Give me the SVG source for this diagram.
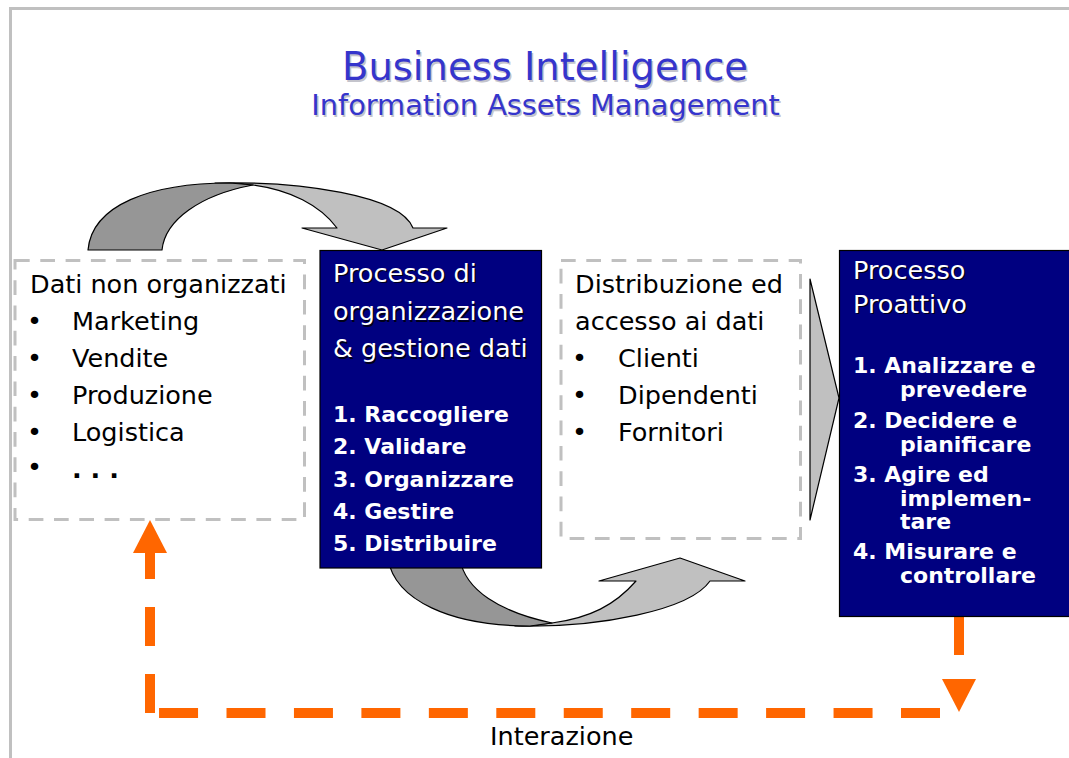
<svg xmlns="http://www.w3.org/2000/svg" width="1069" height="758" viewBox="0 0 1069 758">
  <style>
    .frame { fill: none; stroke: #c0c0c0; stroke-width: 3; }
    .dashbox { fill: #ffffff; stroke: #c0c0c0; stroke-width: 3; stroke-dasharray: 14.7 10.6; }
    .navy { fill: #000080; stroke: #000000; stroke-width: 1.2; }
    .txt { font-family: "DejaVu Sans", Verdana, sans-serif; font-size: 25.5px; fill: #000000; }
    .wtxt { font-family: "DejaVu Sans", Verdana, sans-serif; font-size: 25.5px; fill: #ffffff; }
    .wbold { font-family: "DejaVu Sans", Verdana, sans-serif; font-size: 22px; font-weight: bold; fill: #ffffff; }
    .wshadow { fill: #000000; opacity: 0.8; }
    .title { font-family: "DejaVu Sans", Verdana, sans-serif; fill: #3535cc; text-anchor: middle; }
    .tshadow { fill: #c4c4cc; }
    .dark { fill: #969696; stroke: #000000; stroke-width: 1.2; stroke-linejoin: round; }
    .light { fill: #c0c0c0; stroke: #000000; stroke-width: 1.2; stroke-linejoin: round; }
    .orange { fill: none; stroke: #ff6600; stroke-width: 10; }
    .ohead { fill: #ff6600; }
  </style>

  <!-- page frame -->
  <path class="frame" d="M 1069,8.5 L 10.5,8.5 L 10.5,758"/>

  <!-- title -->
  <g id="title">
    <text class="title tshadow" x="546.5" y="81.5" font-size="38.5">Business Intelligence</text>
    <text class="title" x="545" y="80" font-size="38.5">Business Intelligence</text>
    <text class="title tshadow" x="547" y="116.5" font-size="28.8">Information Assets Management</text>
    <text class="title" x="545.5" y="115" font-size="28.8">Information Assets Management</text>
  </g>

  <!-- connectors -->
  <g id="connectors">
    <!-- curved arrow: raw data into processing -->
    <path class="light" d="M 215,183 C 300,181 400,195 413,228 L 447,228 L 382,250 L 302,228 L 337,228 C 320,205 290,190 253,185 C 240,184 225,183 215,183 Z"/>
    <path class="dark" d="M 88,250 C 92,205 150,183 230,183 L 253,185 C 200,195 165,220 162,250 Z"/>

    <!-- curved arrow: processing to distribution -->
    <path class="light" d="M 515,626 C 600,628 690,610 710,581 L 745,581 L 680,558 L 599,581 L 636,581 C 615,605 590,618 552,623 C 540,625 525,626 515,626 Z"/>
    <path class="dark" d="M 388,559 C 395,600 450,626 530,626 L 552,623 C 500,612 465,590 460,559 Z"/>

    <!-- chevron: distribution to proactive process -->
    <polygon class="light" points="810,279 839,398 810,520"/>

    <!-- feedback loop -->
    <path class="orange" d="M 959,616 L 959,655"/>
    <polygon class="ohead" points="942,679 976,679 959,712"/>
    <path class="orange" d="M 940,713 L 159,713" stroke-dasharray="39 28.45"/>
    <path class="orange" d="M 150,713 L 150,553" stroke-dasharray="39 28"/>
    <polygon class="ohead" points="133,553 167,553 150,520"/>
  </g>

  <!-- node: unorganized data -->
  <g id="dati">
    <rect class="dashbox" x="15" y="260.5" width="289.5" height="259"/>
    <text class="txt" x="30" y="293">Dati non organizzati</text>
    <text class="txt" x="27" y="330">•</text>
    <text class="txt" x="72" y="330">Marketing</text>
    <text class="txt" x="27" y="367">•</text>
    <text class="txt" x="72" y="367">Vendite</text>
    <text class="txt" x="27" y="404">•</text>
    <text class="txt" x="72" y="404">Produzione</text>
    <text class="txt" x="27" y="441">•</text>
    <text class="txt" x="72" y="441">Logistica</text>
    <text class="txt" x="27" y="476">•</text>
    <text class="txt" x="72" y="478" font-weight="bold">. . .</text>
  </g>

  <!-- node: organization process -->
  <g id="organizzazione">
    <rect class="navy" x="320" y="250.5" width="221.5" height="317.5"/>
    <g class="wshadow" font-family="DejaVu Sans, Verdana, sans-serif" font-size="25.5">
      <text x="334.5" y="283.2">Processo di</text>
      <text x="334.5" y="321.5">organizzazione</text>
      <text x="334.5" y="358.5">&amp; gestione dati</text>
    </g>
    <text class="wtxt" x="333" y="282">Processo di</text>
    <text class="wtxt" x="333" y="320">organizzazione</text>
    <text class="wtxt" x="333" y="357">&amp; gestione dati</text>
    <text class="wbold" x="333" y="422">1. Raccogliere</text>
    <text class="wbold" x="333" y="454">2. Validare</text>
    <text class="wbold" x="333" y="487">3. Organizzare</text>
    <text class="wbold" x="333" y="519">4. Gestire</text>
    <text class="wbold" x="333" y="551">5. Distribuire</text>
  </g>

  <!-- node: distribution and access -->
  <g id="distribuzione">
    <rect class="dashbox" x="561" y="260.5" width="239.5" height="278"/>
    <text class="txt" x="575" y="293">Distribuzione ed</text>
    <text class="txt" x="575" y="330">accesso ai dati</text>
    <text class="txt" x="572" y="367">•</text>
    <text class="txt" x="618" y="367">Clienti</text>
    <text class="txt" x="572" y="404">•</text>
    <text class="txt" x="618" y="404">Dipendenti</text>
    <text class="txt" x="572" y="441">•</text>
    <text class="txt" x="618" y="441">Fornitori</text>
  </g>

  <!-- node: proactive process -->
  <g id="proattivo">
    <rect class="navy" x="839.5" y="250.5" width="240" height="366"/>
    <g class="wshadow" font-family="DejaVu Sans, Verdana, sans-serif" font-size="25.5">
      <text x="854.5" y="280.2">Processo</text>
      <text x="854.5" y="314">Proattivo</text>
    </g>
    <text class="wtxt" x="853" y="279">Processo</text>
    <text class="wtxt" x="853" y="312.8">Proattivo</text>
    <text class="wbold" x="853" y="373">1. Analizzare e</text>
    <text class="wbold" x="900" y="397">prevedere</text>
    <text class="wbold" x="853" y="428">2. Decidere e</text>
    <text class="wbold" x="900" y="452">pianificare</text>
    <text class="wbold" x="853" y="482">3. Agire ed</text>
    <text class="wbold" x="900" y="506">implemen-</text>
    <text class="wbold" x="900" y="529">tare</text>
    <text class="wbold" x="853" y="558.5">4. Misurare e</text>
    <text class="wbold" x="900" y="583">controllare</text>
  </g>

  <!-- loop label -->
  <g id="interazione">
    <text class="txt" x="490" y="745">Interazione</text>
  </g>
</svg>
